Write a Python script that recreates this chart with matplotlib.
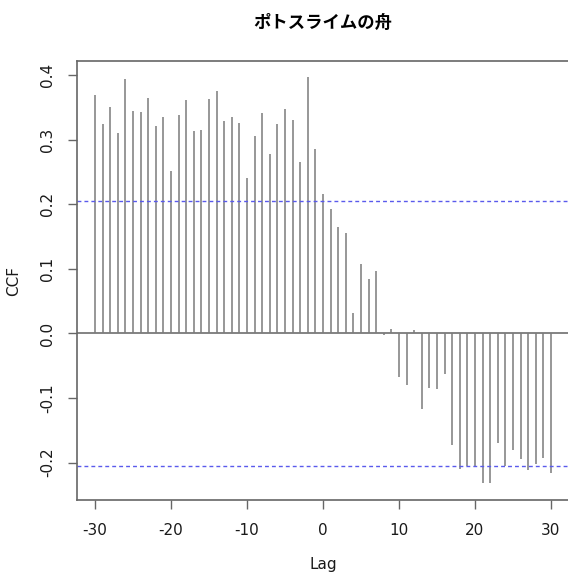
import matplotlib
matplotlib.use("Agg")
import matplotlib.pyplot as plt

plt.rcParams['font.family'] = ['DejaVu Sans']
plt.rcParams['axes.unicode_minus'] = False

# cross-correlation values
lags = list(range(-30, 31))
ccf = [0.369, 0.325, 0.351, 0.310, 0.394, 0.344, 0.343, 0.364, 0.322, 0.336,
       0.252, 0.339, 0.361, 0.314, 0.315, 0.363, 0.376, 0.329, 0.335, 0.326,
       0.240, 0.306, 0.341, 0.278, 0.324, 0.348, 0.330, 0.266, 0.397, 0.285,
       0.216, 0.193, 0.165, 0.155, 0.032, 0.107, 0.084, 0.096, -0.003, 0.007,
       -0.067, -0.080, 0.005, -0.117, -0.084, -0.086, -0.063, -0.173, -0.210, -0.206,
       -0.206, -0.232, -0.231, -0.169, -0.206, -0.180, -0.195, -0.211, -0.202, -0.193,
       -0.216]
ci = 0.205
xticks = [-30, -20, -10, 0, 10, 20, 30]
yticks = [-0.2, -0.1, 0.0, 0.1, 0.2, 0.3, 0.4]

W, H = 568, 577
fig = plt.figure(figsize=(W / 100, H / 100), dpi=100)
ax = fig.add_axes([76.7 / W, 1 - 500 / H, 492.5 / W, 439 / H])

ax.vlines(lags, 0, ccf, color='#7a7a7a', linewidth=1.1)
ax.axhline(0, color='#7a7a7a', linewidth=1.3)
ax.axhline(ci, color='#5a5aec', linewidth=1.0, dashes=(2.8, 2.2))
ax.axhline(-ci, color='#5a5aec', linewidth=1.0, dashes=(2.8, 2.2))

ax.set_xlim(-32.4, 32.4)
ax.set_ylim(-0.258, 0.422)
ax.set_xticks(xticks)
ax.set_xticklabels([str(t) for t in xticks])
ax.set_yticks(yticks)
ax.set_yticklabels(['%.1f' % t for t in yticks], rotation=90, va='center')

for s in ax.spines.values():
    s.set_color('#666666')
    s.set_linewidth(1.2)
ax.tick_params(direction='out', length=6.5, width=1.0, color='#666666',
               labelsize=11, labelcolor='#1a1a1a')
ax.tick_params(axis='x', pad=10)
ax.tick_params(axis='y', pad=9)

fig.text(323 / W, 1 - 23 / H, 'ポトスライムの舟', ha='center', va='center',
         fontsize=12.5, fontweight='bold', family=['Noto Sans CJK JP', 'DejaVu Sans'])
fig.text(323 / W, 1 - 564 / H, 'Lag', ha='center', va='center', fontsize=11, color='#1a1a1a')
fig.text(14 / W, 1 - 280.5 / H, 'CCF', ha='center', va='center', rotation=90,
         fontsize=11, color='#1a1a1a')

fig.savefig('out.png', dpi=100)
